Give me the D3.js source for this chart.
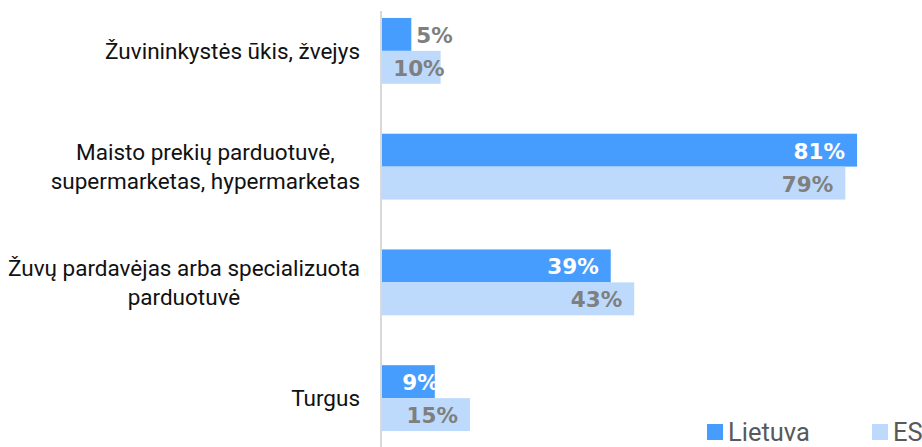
<!DOCTYPE html>
<html>
<head>
<meta charset="utf-8">
<script src="https://cdn.jsdelivr.net/npm/d3@7"></script>
<style>
  html, body { margin: 0; padding: 0; background: #fff; }
  svg { display: block; }
</style>
</head>
<body>
<svg id="chart" width="922" height="447"></svg>
<script>
const categories = [
  ["Žuvininkystės ūkis, žvejys"],
  ["Maisto prekių parduotuvė,", "supermarketas, hypermarketas"],
  ["Žuvų pardavėjas arba specializuota", "parduotuvė"],
  ["Turgus"]
];
const seriesNames = ["Lietuva", "ES"];
const lietuva = [5, 81, 39, 9];
const es = [10, 79, 43, 15];

const colors = { "Lietuva": "#479dfd", "ES": "#bddafc" };
const FONT = "Roboto, 'Noto Sans', sans-serif";
const VFONT = "'DejaVu Sans', sans-serif";

const svg = d3.select("#chart");
const W = 922, H = 447;
const x0 = 382;

const x = d3.scaleLinear().domain([0, 100]).range([x0, x0 + 586.5]);
const y = d3.scaleBand().domain(d3.range(categories.length))
  .range([-7, 456]).paddingInner(0.431).paddingOuter(0.2155);
const ySub = d3.scaleBand().domain(seriesNames).range([0, y.bandwidth()]);

const data = categories.map((c, i) => ({ i, label: c, values: [
  { name: "Lietuva", v: lietuva[i] }, { name: "ES", v: es[i] } ] }));

// bars
const g = svg.selectAll("g.grp").data(data).join("g").attr("class", "grp")
  .attr("transform", d => `translate(0,${y(d.i)})`);

g.selectAll("rect").data(d => d.values).join("rect")
  .attr("x", x(0))
  .attr("y", d => ySub(d.name))
  .attr("width", d => x(d.v) - x(0))
  .attr("height", ySub.bandwidth())
  .attr("fill", d => colors[d.name]);

// axis line
svg.append("line").attr("x1", 381).attr("x2", 381).attr("y1", 11).attr("y2", H)
  .attr("stroke", "#d9d9d9").attr("stroke-width", 2);

// value labels
g.selectAll("text.val").data(d => d.values).join("text").attr("class", "val")
  .attr("font-family", VFONT).attr("font-weight", "bold").attr("font-size", 21.5)
  .attr("dominant-baseline", "central")
  .attr("y", d => ySub(d.name) + ySub.bandwidth() / 2 + 1)
  .text(d => d.v + "%")
  .each(function(d) {
    const t = d3.select(this);
    const tw = this.getComputedTextLength();
    const bw = x(d.v) - x(0);
    const inColor = d.name === "Lietuva" ? "#ffffff" : "#7f7f7f";
    if (tw > bw) {
      t.attr("x", x(d.v) + 5).attr("text-anchor", "start").attr("fill", "#7f7f7f");
    } else if (tw + 24 > bw) {
      t.attr("x", x(d.v) + 4).attr("text-anchor", "end").attr("fill", inColor);
    } else {
      t.attr("x", x(d.v) - 12).attr("text-anchor", "end").attr("fill", inColor);
    }
  });

// category labels: block right-aligned at 360, lines centered within block
const lineH = 28.5;
g.each(function(d) {
  const grp = d3.select(this);
  const cy = y.bandwidth() / 2;
  const texts = grp.append("g");
  const n = d.label.length;
  const tmp = d.label.map((s, k) => texts.append("text")
    .attr("font-family", FONT).attr("font-size", 22.5).attr("fill", "#111")
    .attr("dominant-baseline", "central")
    .attr("y", cy + (k - (n - 1) / 2) * lineH)
    .text(s));
  const widths = tmp.map(t => t.node().getComputedTextLength());
  const bw = d3.max(widths);
  const cx = 360 - bw / 2;
  tmp.forEach(t => t.attr("x", cx).attr("text-anchor", "middle"));
});

// legend
const legend = svg.append("g");
const legItems = [{ name: "Lietuva", sx: 707 }, { name: "ES", sx: 872 }];
legItems.forEach(it => {
  legend.append("rect").attr("x", it.sx).attr("y", 424).attr("width", 16).attr("height", 16)
    .attr("fill", colors[it.name]);
  legend.append("text").attr("x", it.sx + 21).attr("y", 440.5)
    .attr("font-family", FONT).attr("font-size", 25.5).attr("fill", "#595959")
    .text(it.name);
});
</script>
</body>
</html>
